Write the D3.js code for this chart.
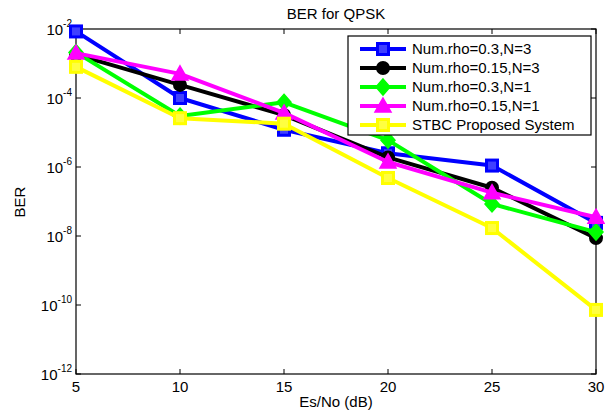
<!DOCTYPE html>
<html><head><meta charset="utf-8">
<script src="https://cdn.jsdelivr.net/npm/d3@7"></script>
<style>body{margin:0;background:#fff}svg{display:block;font-family:"Liberation Sans",Arial,sans-serif}</style>
</head><body><svg id="c" width="605" height="414"></svg>
<script>
const snr = [5, 10, 15, 20, 25, 30];
const blueRho03N3 = [8.5e-3, 1.0e-4, 1.2e-5, 2.5e-6, 1.1e-6, 2.4e-8];
const blackRho015N3 = [1.8e-3, 2.4e-4, 3.2e-5, 1.9e-6, 2.5e-7, 8.7e-9];
const greenRho03N1 = [2.1e-3, 3.0e-5, 7.5e-5, 6.0e-6, 8.5e-8, 1.3e-8];
const magentaRho015N1 = [2.0e-3, 5.0e-4, 3.7e-5, 1.4e-6, 1.8e-7, 3.5e-8];
const yellowSTBC = [8.0e-4, 2.6e-5, 1.8e-5, 4.8e-7, 1.7e-8, 7.2e-11];
const seriesNames = ["Num.rho=0.3,N=3","Num.rho=0.15,N=3","Num.rho=0.3,N=1","Num.rho=0.15,N=1","STBC Proposed System"];
const xTicks = [5, 10, 15, 20, 25, 30];
const yTickExps = [-2, -4, -6, -8, -10, -12];

const series = [
  {name: seriesNames[0], values: blueRho03N3, color: "#0000ff", marker: "square"},
  {name: seriesNames[1], values: blackRho015N3, color: "#000000", marker: "circle"},
  {name: seriesNames[2], values: greenRho03N1, color: "#00ff00", marker: "diamond"},
  {name: seriesNames[3], values: magentaRho015N1, color: "#ff00ff", marker: "triangle"},
  {name: seriesNames[4], values: yellowSTBC, color: "#ffff00", marker: "square"}
];

const svg = d3.select("#c");
const L = 76, R = 596, T = 29, B = 374;
const x = d3.scaleLinear().domain([5, 30]).range([L, R]);
const y = d3.scaleLog().domain([1e-12, 1e-2]).range([B, T]);

svg.append("rect").attr("x", L).attr("y", T).attr("width", R - L).attr("height", B - T)
  .attr("fill", "#fff").attr("stroke", "#000").attr("stroke-width", 1.2);

const tl = 5;
xTicks.forEach(t => {
  const xx = x(t);
  svg.append("line").attr("x1", xx).attr("x2", xx).attr("y1", B).attr("y2", B - tl).attr("stroke", "#000");
  svg.append("line").attr("x1", xx).attr("x2", xx).attr("y1", T).attr("y2", T + tl).attr("stroke", "#000");
  svg.append("text").attr("x", xx).attr("y", 392).attr("text-anchor", "middle")
    .attr("font-size", 15).text(t);
});
yTickExps.forEach(e => {
  const yy = y(Math.pow(10, e));
  svg.append("line").attr("x1", L).attr("x2", L + tl).attr("y1", yy).attr("y2", yy).attr("stroke", "#000");
  svg.append("line").attr("x1", R).attr("x2", R - tl).attr("y1", yy).attr("y2", yy).attr("stroke", "#000");
  const tx = svg.append("text").attr("x", L - 4).attr("y", yy + 6).attr("text-anchor", "end").attr("font-size", 15);
  tx.append("tspan").text("10");
  tx.append("tspan").attr("font-size", 10).attr("dy", -8).text(String(e));
});

svg.append("text").attr("x", 336).attr("y", 19).attr("text-anchor", "middle").attr("font-size", 15).text("BER for QPSK");
svg.append("text").attr("x", 336).attr("y", 407).attr("text-anchor", "middle").attr("font-size", 15).text("Es/No (dB)");
svg.append("text").attr("transform", "translate(25,202) rotate(-90)").attr("text-anchor", "middle").attr("font-size", 15).text("BER");

function drawMarker(g, type, cx, cy, color) {
  const lighter = d3.interpolateRgb(color, "#fff")(0.25);
  if (type === "square") {
    g.append("rect").attr("x", cx - 5.5).attr("y", cy - 5.5).attr("width", 11).attr("height", 11)
      .attr("fill", lighter).attr("stroke", color).attr("stroke-width", 3);
  } else if (type === "circle") {
    g.append("circle").attr("cx", cx).attr("cy", cy).attr("r", 6).attr("fill", color).attr("stroke", color).attr("stroke-width", 2);
  } else if (type === "diamond") {
    g.append("path").attr("d", `M${cx},${cy-8}L${cx+7},${cy}L${cx},${cy+8}L${cx-7},${cy}Z`).attr("fill", color).attr("stroke", color).attr("stroke-width", 1.5);
  } else if (type === "triangle") {
    g.append("path").attr("d", `M${cx},${cy-8}L${cx+8},${cy+6}L${cx-8},${cy+6}Z`).attr("fill", color).attr("stroke", color).attr("stroke-width", 1.5);
  }
}

const line = d3.line().x((d, i) => x(snr[i])).y(d => y(d));
series.forEach(s => {
  const g = svg.append("g");
  g.append("path").attr("d", line(s.values)).attr("fill", "none").attr("stroke", s.color).attr("stroke-width", 4).attr("stroke-linejoin", "round");
  s.values.forEach((v, i) => drawMarker(g, s.marker, x(snr[i]), y(v), s.color));
});

const lx = 348, ly = 36, lw = 243, lh = 99;
svg.append("rect").attr("x", lx).attr("y", ly).attr("width", lw).attr("height", lh).attr("fill", "#fff").attr("stroke", "#000").attr("stroke-width", 1.2);
series.forEach((s, i) => {
  const yy = ly + 13 + i * 19;
  const g = svg.append("g");
  g.append("line").attr("x1", 360).attr("x2", 406).attr("y1", yy).attr("y2", yy).attr("stroke", s.color).attr("stroke-width", 4);
  drawMarker(g, s.marker, 383, yy, s.color);
  svg.append("text").attr("x", 412).attr("y", yy + 5).attr("font-size", 15).text(s.name);
});
</script></body></html>
